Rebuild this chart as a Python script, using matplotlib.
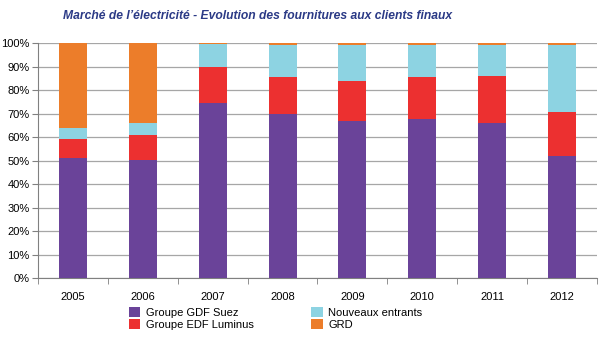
import numpy as np
import matplotlib.pyplot as plt
from matplotlib.ticker import PercentFormatter

plt.rcParams['font.family'] = ['Liberation Sans', 'DejaVu Sans']

years = ['2005', '2006', '2007', '2008', '2009', '2010', '2011', '2012']
gdf_suez = [51.1, 50.3, 74.7, 69.9, 66.9, 67.5, 66.0, 51.8]
edf_luminus = [8.2, 10.7, 15.3, 15.6, 17.0, 18.1, 20.2, 19.0]
nouveaux = [4.5, 5.2, 9.8, 13.9, 15.5, 13.8, 13.2, 28.5]
grd = [36.2, 33.8, 0.2, 0.6, 0.6, 0.6, 0.6, 0.7]

series = [
    ('Groupe GDF Suez', gdf_suez, '#6a4399'),
    ('Groupe EDF Luminus', edf_luminus, '#ec3030'),
    ('Nouveaux entrants', nouveaux, '#8dd3e2'),
    ('GRD', grd, '#ec7d2a'),
]

fig = plt.figure(figsize=(6.03, 3.37), dpi=100)
ax = fig.add_axes([0.063, 0.175, 0.927, 0.697])

x = np.arange(len(years))
bottom = np.zeros(len(years))
handles = []
for name, vals, col in series:
    h = ax.bar(x, vals, 0.4, bottom=bottom, color=col, label=name, zorder=3)
    handles.append(h)
    bottom += np.array(vals)

ax.set_xlim(-0.5, len(years) - 0.5)
ax.set_ylim(0, 100)
ax.set_yticks(np.arange(0, 101, 10))
ax.yaxis.set_major_formatter(PercentFormatter(decimals=0))
ax.grid(axis='y', color='#a6a6a6', linewidth=0.9, zorder=0)

ax.set_xticks(x)
ax.set_xticklabels(years)
ax.set_xticks(np.arange(-0.5, len(years)), minor=True)
ax.tick_params(axis='x', which='major', length=0, pad=10, labelsize=8)
ax.tick_params(axis='x', which='minor', length=4, color='#808080')
ax.tick_params(axis='y', length=4, color='#808080', labelsize=8, pad=2)

for s in ['top', 'right']:
    ax.spines[s].set_visible(False)
ax.spines['left'].set_color('#808080')
ax.spines['bottom'].set_color('#808080')

fig.text(0.427, 0.952, "Marché de l’électricité - Evolution des fournitures aux clients finaux",
         ha='center', va='center', fontsize=8.7, fontstyle='italic', fontweight='bold',
         color='#2b3a86')

fig.legend(handles=handles, loc='upper left', bbox_to_anchor=(0.205, 0.105),
           ncol=2, frameon=False, fontsize=8, handlelength=1.0, handleheight=1.0,
           handletextpad=0.5, columnspacing=5.2, labelspacing=0.1, borderpad=0)

fig.savefig('out.png', dpi=100)
